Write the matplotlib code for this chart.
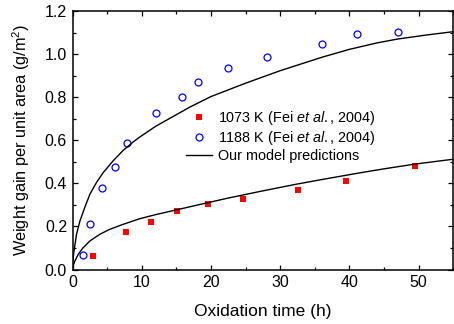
import matplotlib
matplotlib.use("Agg")
import matplotlib.pyplot as plt
from matplotlib.ticker import MultipleLocator, FormatStrFormatter

# measured weight gain, 1073 K (Fei et al., 2004)
t_1073 = [3.0, 7.65, 11.26, 15.06, 19.59, 24.64, 32.58, 39.46, 49.52]
w_1073 = [0.063, 0.173, 0.223, 0.272, 0.303, 0.328, 0.371, 0.413, 0.482]

# measured weight gain, 1188 K (Fei et al., 2004)
t_1188 = [1.54, 2.55, 4.23, 6.06, 7.89, 12.03, 15.88, 18.14, 22.52, 28.06, 36.04, 41.05, 47.06]
w_1188 = [0.068, 0.210, 0.377, 0.476, 0.586, 0.728, 0.801, 0.871, 0.937, 0.987, 1.048, 1.092, 1.104]

# model curves
t_model_hi = [0, 0.05, 0.19, 0.57, 1.05, 1.77, 2.5, 3.46, 4.42, 5.86, 7.3, 8.74, 9.7, 12, 14.5,
              17, 20, 25, 30, 36, 40, 44, 47, 51, 55]
w_model_hi = [0, 0.045, 0.085, 0.165, 0.225, 0.29, 0.35, 0.405, 0.45, 0.505, 0.553, 0.592,
              0.615, 0.665, 0.71, 0.755, 0.803, 0.865, 0.923, 0.985, 1.022, 1.052, 1.07, 1.088, 1.104]

t_model_lo = [0, 0.05, 0.33, 0.81, 1.53, 2.5, 3.94, 5.38, 7.3, 9.7, 12, 15, 17.7, 22.5, 27.3,
              32.3, 36.4, 41.9, 45.5, 49.6, 55]
w_model_lo = [0, 0.016, 0.04, 0.071, 0.102, 0.133, 0.164, 0.187, 0.21, 0.236, 0.255, 0.277, 0.297,
              0.332, 0.364, 0.396, 0.42, 0.451, 0.47, 0.49, 0.512]

plt.rcParams['font.family'] = ['Liberation Sans', 'DejaVu Sans']
plt.rcParams['mathtext.fontset'] = 'custom'
plt.rcParams['mathtext.rm'] = 'Liberation Sans'
plt.rcParams['mathtext.it'] = 'Liberation Sans:italic'

fig = plt.figure(figsize=(4.54, 3.24), dpi=100)
ax = fig.add_axes([0.160, 0.168, 0.838, 0.798])

ax.plot(t_1073, w_1073, 's', color='#ff0000', markersize=4.6, markeredgewidth=0,
        label='1073 K (Fei $\\mathit{et\\ al.}$, 2004)')
ax.plot(t_1188, w_1188, 'o', color='#0000ff', markerfacecolor='none', markersize=5,
        markeredgewidth=0.9, label='1188 K (Fei $\\mathit{et\\ al.}$, 2004)')
ax.plot(t_model_hi, w_model_hi, '-', color='black', linewidth=1.0, label='Our model predictions')
ax.plot(t_model_lo, w_model_lo, '-', color='black', linewidth=1.0)

ax.set_xlim(0, 55)
ax.set_ylim(0, 1.2)
ax.xaxis.set_major_locator(MultipleLocator(10))
ax.xaxis.set_minor_locator(MultipleLocator(5))
ax.yaxis.set_major_locator(MultipleLocator(0.2))
ax.yaxis.set_minor_locator(MultipleLocator(0.1))
ax.yaxis.set_major_formatter(FormatStrFormatter('%.1f'))

ax.tick_params(which='both', direction='in', top=True, right=True, labelsize=11.5, width=0.9)
ax.tick_params(which='major', length=3.5, pad=4)
ax.tick_params(which='minor', length=2)
for s in ax.spines.values():
    s.set_linewidth(1.1)

ax.set_xlabel('Oxidation time (h)', fontsize=12.5, labelpad=10)
ax.set_ylabel('Weight gain per unit area (g/m$^2$)', fontsize=11.7, labelpad=9.5)

ax.legend(loc='upper left', bbox_to_anchor=(0.284, 0.645), frameon=False, fontsize=10.4,
          handlelength=1.8, handletextpad=0.35, labelspacing=0.15, borderaxespad=0)

fig.savefig('out.png', dpi=100)
